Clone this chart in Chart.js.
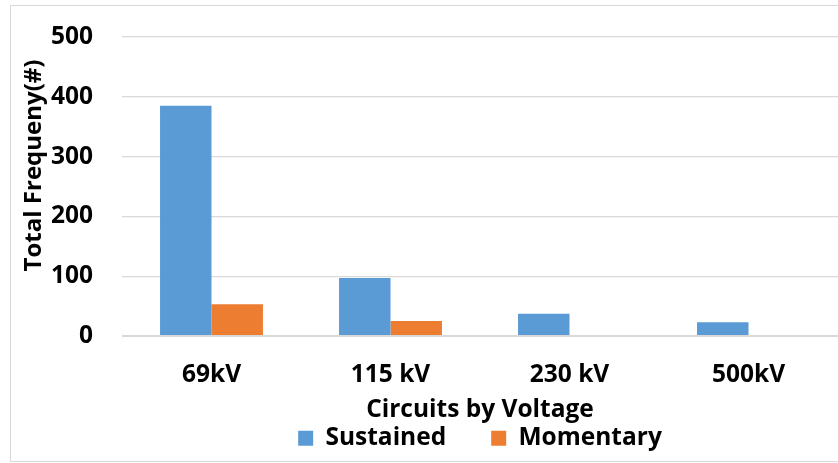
<!DOCTYPE html>
<html>
<head>
<meta charset="utf-8">
<script src="https://cdn.jsdelivr.net/npm/chart.js@4.4.1/dist/chart.umd.min.js"></script>
<style>
  html, body { margin: 0; padding: 0; background: #fff; }
  #wrap { position: relative; width: 838px; height: 463px; overflow: hidden; }
  #wrap canvas { position: absolute; left: 0; top: 0; }
  #frame { position: absolute; left: 10px; top: 5px; width: 900px; height: 457px;
           box-sizing: border-box; border: 1px solid #d9d9d9; pointer-events: none; }
</style>
</head>
<body>
<div id="wrap">
  <canvas id="chart" width="838" height="463"></canvas>
  <div id="frame"></div>
</div>
<script>
// Interruption counts per circuit voltage class
const categories = ['69kV', '115 kV', '230 kV', '500kV'];
const sustained = [385, 97, 37, 23];
const momentary = [53, 25, 0, 0];
const yTicks = [0, 100, 200, 300, 400, 500];
const yTitle = 'Total Frequeny(#)';

const FONT = '"Open Sans"';

// Lift the legend so its single row sits at the top of the space it reserves,
// letting the label padding only spread the two entries apart horizontally.
const legendRow = {
  id: 'legendRow',
  afterLayout(chart) {
    const lg = chart.legend;
    const pad = lg.options.labels.padding;
    lg.top -= pad;
    lg.height += pad;
  }
};

// Vertical axis title, set above the middle of the plot and close to the frame.
const yAxisTitle = {
  id: 'yAxisTitle',
  afterDraw(chart) {
    const { ctx, chartArea } = chart;
    const cy = (chartArea.top + chartArea.bottom) / 2 - 21;
    ctx.save();
    ctx.translate(41, cy);
    ctx.rotate(-Math.PI / 2);
    ctx.font = 'bold 24px ' + FONT;
    ctx.fillStyle = '#000';
    ctx.textAlign = 'center';
    ctx.textBaseline = 'alphabetic';
    ctx.fillText(yTitle, 0, 0);
    ctx.restore();
  }
};

new Chart(document.getElementById('chart'), {
  type: 'bar',
  data: {
    labels: categories,
    datasets: [
      { label: 'Sustained', data: sustained, backgroundColor: '#5B9BD5' },
      { label: 'Momentary', data: momentary, backgroundColor: '#ED7D31' }
    ]
  },
  plugins: [legendRow, yAxisTitle],
  options: {
    responsive: false,
    devicePixelRatio: 1,
    animation: false,
    layout: { padding: { top: 37, right: 0, bottom: 0, left: 0 } },
    datasets: { bar: { categoryPercentage: 0.575, barPercentage: 1.0 } },
    plugins: {
      tooltip: { enabled: false },
      legend: {
        position: 'bottom',
        fullSize: false,
        maxHeight: 37,
        labels: {
          boxWidth: 15,
          boxHeight: 15,
          padding: 45,
          color: '#000',
          font: { family: FONT, size: 24.5, weight: 'bold' }
        }
      }
    },
    scales: {
      x: {
        grid: { display: false, drawTicks: false },
        border: { display: false },
        ticks: {
          padding: 24,
          color: '#000',
          font: { family: FONT, size: 24.5, weight: 'bold' }
        },
        title: {
          display: true,
          text: 'Circuits by Voltage',
          color: '#000',
          padding: { top: 0, bottom: 1 },
          font: { family: FONT, size: 24.5, weight: 'bold' }
        },
        afterFit(scale) { scale.height = 90; }
      },
      y: {
        min: 0,
        max: 500,
        afterBuildTicks(scale) { scale.ticks = yTicks.map(v => ({ value: v })); },
        grid: {
          color: '#d9d9d9',
          lineWidth: (ctx) => (ctx.tick && ctx.tick.value === 0 ? 2 : 1.2),
          drawTicks: true,
          tickLength: 25,
          tickColor: 'rgba(0,0,0,0)'
        },
        border: { display: false },
        ticks: {
          padding: 4,
          color: '#000',
          font: { family: FONT, size: 24.5, weight: 'bold' }
        },
        afterFit(scale) { scale.width = 122; }
      }
    }
  }
});
</script>
</body>
</html>
